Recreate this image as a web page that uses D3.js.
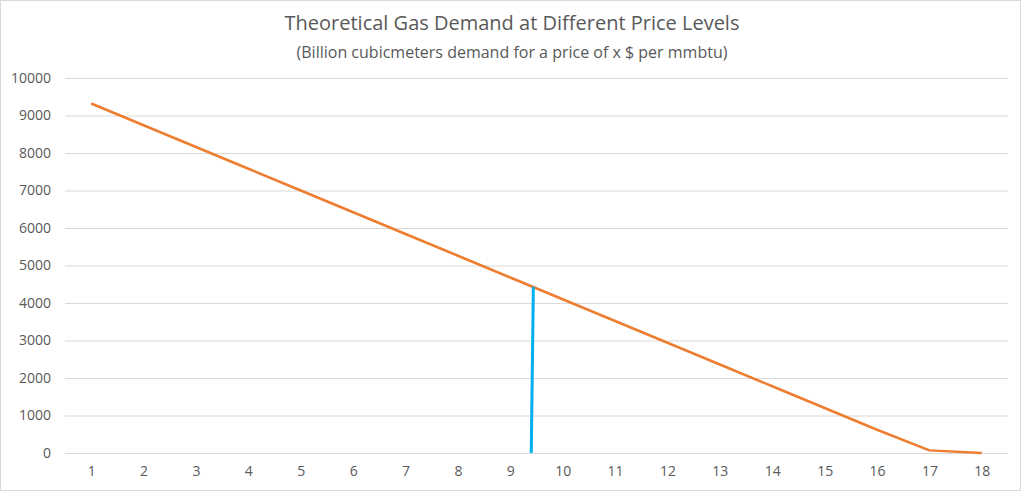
<!DOCTYPE html>
<html>
<head>
<meta charset="utf-8">
<script src="https://cdn.jsdelivr.net/npm/d3@7"></script>
<style>
  body { margin: 0; background: #fff; }
  svg text { font-family: "Open Sans", "Noto Sans", sans-serif; fill: #595959; }
</style>
</head>
<body>
<div id="chart"></div>
<script>
// price levels ($ per mmbtu)
var prices = [1, 2, 3, 4, 5, 6, 7, 8, 9, 10, 11, 12, 13, 14, 15, 16, 17, 18];
// demand in billion cubic meters
var demand = [9320, 8740, 8160, 7580, 7000, 6420, 5840, 5260, 4680, 4100, 3520, 2940, 2360, 1780, 1200, 620, 70, 0];
// the vertical marker line
var markerX = [9.44, 9.40];
var markerY = [4430, 0];
var yTicks = [0, 1000, 2000, 3000, 4000, 5000, 6000, 7000, 8000, 9000, 10000];

var W = 1024, H = 493;
var margin = {top: 78, right: 16, bottom: 40, left: 65},
    width = W - margin.left - margin.right,
    height = H - margin.top - margin.bottom;

var root = d3.select("#chart")
    .append("svg")
    .attr("width", W)
    .attr("height", H);

// chart border
root.append("rect")
    .attr("x", 0.5).attr("y", 0.5)
    .attr("width", W - 4).attr("height", H - 3)
    .attr("fill", "#fff")
    .attr("stroke", "#d9d9d9");

root.append("text")
    .attr("x", 512).attr("y", 30)
    .attr("text-anchor", "middle")
    .style("font-size", "20px")
    .text("Theoretical Gas Demand at Different Price Levels");

root.append("text")
    .attr("x", 512).attr("y", 58)
    .attr("text-anchor", "middle")
    .style("font-size", "16px")
    .text("(Billion cubicmeters demand for a price of x $ per mmbtu)");

var svg = root.append("g")
    .attr("transform", "translate(" + margin.left + "," + margin.top + ")");

var x = d3.scaleLinear()
    .domain([0.5, 18.5])
    .range([0, width]);

var y = d3.scaleLinear()
    .domain([0, 10000])
    .range([height, 0]);

// horizontal gridlines + y labels
var yAxis = svg.append("g")
    .call(d3.axisLeft(y).tickValues(yTicks).tickSize(-width).tickPadding(14).tickFormat(d3.format("d")));
yAxis.select(".domain").remove();
yAxis.selectAll(".tick line").attr("stroke", "#d9d9d9");
yAxis.selectAll(".tick text").style("font-size", "14px").style("fill", "#595959");

// x labels
var xAxis = svg.append("g")
    .attr("transform", "translate(0," + height + ")")
    .call(d3.axisBottom(x).tickValues(prices).tickSize(0).tickPadding(13).tickFormat(d3.format("d")));
xAxis.select(".domain").remove();
xAxis.selectAll(".tick text").style("font-size", "14px").style("fill", "#595959");

var line = d3.line()
    .x(function (d) { return x(d[0]); })
    .y(function (d) { return y(d[1]); });

svg.append("path")
    .datum(d3.zip(prices, demand))
    .attr("fill", "none")
    .attr("stroke", "#ED7D31")
    .attr("stroke-width", 2.5)
    .attr("stroke-linejoin", "round")
    .attr("d", line);

svg.append("path")
    .datum(d3.zip(markerX, markerY))
    .attr("fill", "none")
    .attr("stroke", "#00B0F0")
    .attr("stroke-width", 3)
    .attr("d", line);
</script>
</body>
</html>
